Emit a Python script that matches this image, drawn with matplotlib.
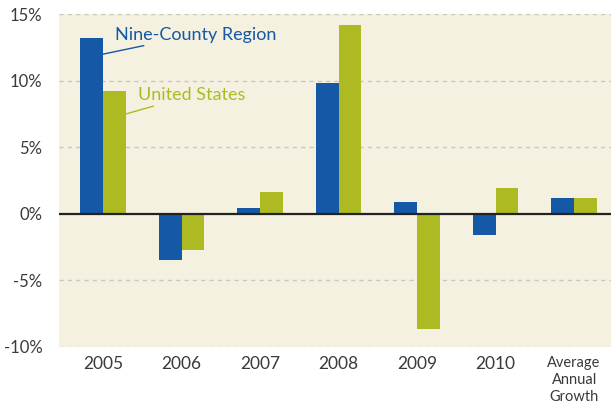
import numpy as np
import matplotlib.pyplot as plt

categories = ['2005', '2006', '2007', '2008', '2009', '2010', 'Average\nAnnual\nGrowth']
region = [13.2, -3.5, 0.4, 9.8, 0.9, -1.6, 1.2]
usa = [9.2, -2.7, 1.6, 14.2, -8.7, 1.9, 1.2]
yticks = [-10, -5, 0, 5, 10, 15]

blue = '#1558a6'
green = '#aeba22'
bg = '#f5f1e1'
txt = '#3a3a3a'

plt.rcParams['font.family'] = ['Lato', 'DejaVu Sans']

fig = plt.figure(figsize=(6.11, 4.07), dpi=100)
ax = fig.add_axes([0.0966, 0.148, 0.9034, 0.817])
ax.set_facecolor(bg)

x = np.arange(len(categories))
w = 0.29
ax.bar(x - w / 2, region, w, color=blue, zorder=3)
ax.bar(x + w / 2, usa, w, color=green, zorder=3)

ax.set_xlim(-0.56, len(categories) - 1 + 0.47)
ax.set_ylim(-10, 15)
ax.set_yticks(yticks)
ax.set_yticklabels([f'{t}%' for t in yticks])
for t in yticks:
    if t != 0:
        ax.axhline(t, color='#c9c7c0', lw=1, ls=(0, (3, 3)), zorder=1)
ax.axhline(0, color='#222222', lw=1.6, zorder=4)

ax.set_xticks(x)
ax.set_xticklabels(categories)
for lab in ax.get_xticklabels():
    if '\n' in lab.get_text():
        lab.set_fontsize(10.5)
        lab.set_linespacing(1.25)
    else:
        lab.set_fontsize(12.5)
ax.tick_params(axis='x', length=0, pad=7, colors=txt)
ax.tick_params(axis='y', length=0, pad=12, labelsize=12, colors=txt)
for s in ax.spines.values():
    s.set_visible(False)

ax.annotate('Nine-County Region', xy=(0.0, 12.0), xytext=(0.15, 12.85),
            color=blue, fontsize=13, va='bottom', ha='left',
            arrowprops=dict(arrowstyle='-', color=blue, lw=1, shrinkA=0, shrinkB=0))
ax.annotate('United States', xy=(0.29, 7.5), xytext=(0.44, 8.3),
            color=green, fontsize=13, va='bottom', ha='left',
            arrowprops=dict(arrowstyle='-', color=green, lw=1, shrinkA=0, shrinkB=0))

fig.savefig('out.png', dpi=100)
